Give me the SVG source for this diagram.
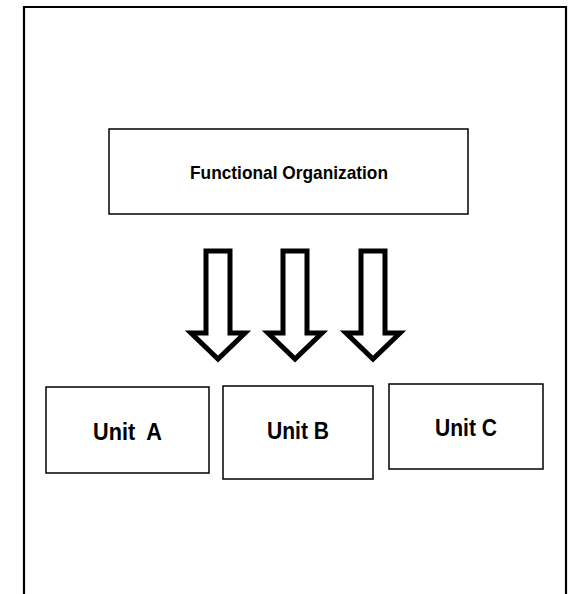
<svg xmlns="http://www.w3.org/2000/svg" width="572" height="594" viewBox="0 0 572 594">
<style>
.box{fill:#fff;stroke:#000;stroke-width:1.5}
.frame{fill:none;stroke:#000;stroke-width:2.2}
.arrow{fill:#fff;stroke:#000;stroke-width:5;stroke-linejoin:miter;stroke-miterlimit:10}
.t{font-family:"Liberation Sans",Arial,sans-serif;font-weight:bold;fill:#000;text-anchor:middle;white-space:pre}
</style>
<rect width="572" height="594" fill="#fff"/>
<path class="frame" d="M24,600 V7 H566 V600"/>
<g id="functional">
<rect class="box" x="109" y="129" width="359" height="85"/>
<text class="t" x="289" y="179" font-size="19" textLength="198" lengthAdjust="spacingAndGlyphs">Functional Organization</text>
</g>
<g id="connectors">
<path class="arrow" d="M206,251 H230 V333 H245 L218,359 L191,333 H206 Z"/>
<path class="arrow" d="M283,251 H307 V333 H322 L295,359 L268,333 H283 Z"/>
<path class="arrow" d="M361,251 H385 V333 H400 L373,359 L346,333 H361 Z"/>
</g>
<g id="unitA">
<rect class="box" x="46" y="387" width="163" height="86"/>
<text class="t" x="127.5" y="440" font-size="24" textLength="69" lengthAdjust="spacingAndGlyphs">Unit  A</text>
</g>
<g id="unitB">
<rect class="box" x="223" y="386" width="150" height="93"/>
<text class="t" x="298" y="439" font-size="24" textLength="62" lengthAdjust="spacingAndGlyphs">Unit B</text>
</g>
<g id="unitC">
<rect class="box" x="389" y="384" width="154" height="85"/>
<text class="t" x="466" y="436" font-size="24" textLength="62" lengthAdjust="spacingAndGlyphs">Unit C</text>
</g>
</svg>
